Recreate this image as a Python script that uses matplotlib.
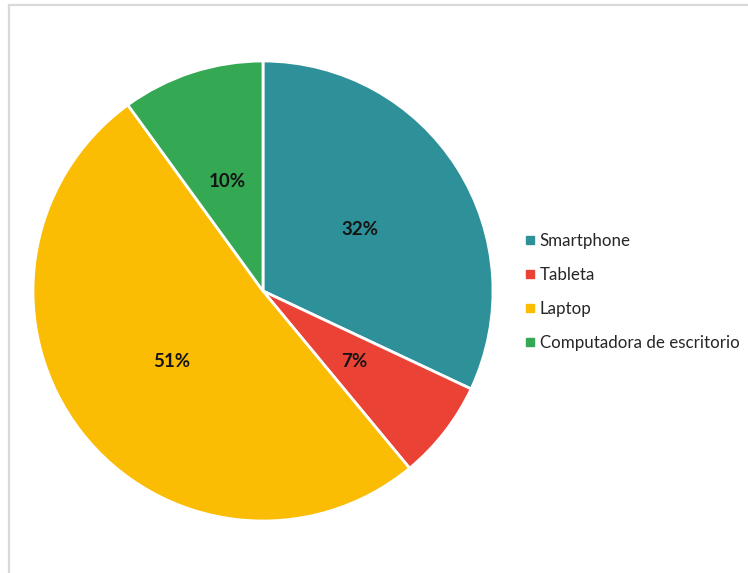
import matplotlib
matplotlib.use("Agg")
import matplotlib.pyplot as plt
from matplotlib.lines import Line2D

categories = ["Smartphone", "Tableta", "Laptop", "Computadora de escritorio"]
shares = [32, 7, 51, 10]
colors = ["#2E9199", "#EA4335", "#FBBC04", "#34A853"]

plt.rcParams["font.family"] = ["Lato", "DejaVu Sans"]

fig = plt.figure(figsize=(7.48, 5.73), dpi=100)
fig.patch.set_facecolor("white")

# light frame on the left and top edges
frame_color = "#D9D9D9"
fig.add_artist(Line2D([8.5 / 748, 8.5 / 748], [0, 1 - 4.5 / 573],
                      color=frame_color, lw=1.6, transform=fig.transFigure))
fig.add_artist(Line2D([8.5 / 748, 1], [1 - 4.5 / 573, 1 - 4.5 / 573],
                      color=frame_color, lw=1.6, transform=fig.transFigure))

cx, cy, r = 263, 291, 230
W, H = 748, 573
ax = fig.add_axes([(cx - r) / W, (H - cy - r) / H, 2 * r / W, 2 * r / H])

wedges, texts, autotexts = ax.pie(
    shares,
    colors=colors,
    startangle=90,
    counterclock=False,
    radius=1,
    autopct=lambda p: f"{p:.0f}%",
    pctdistance=0.5,
    wedgeprops=dict(edgecolor="white", linewidth=2),
    textprops=dict(fontsize=13.5, fontweight="bold", color="#141414"),
)
ax.set_xlim(-1, 1)
ax.set_ylim(-1, 1)
ax.set_aspect("equal")

handles = [Line2D([0], [0], marker="s", linestyle="none", markersize=5.5,
                  markerfacecolor=c, markeredgecolor=c) for c in colors]
leg = fig.legend(handles, categories, loc="center left",
                 bbox_to_anchor=(516 / W, 1 - 292 / H),
                 frameon=False, fontsize=12.2, handlelength=0.6,
                 handletextpad=0.3, labelspacing=1.05, borderpad=0)
for t in leg.get_texts():
    t.set_color("#262626")

fig.savefig("out.png", dpi=100, facecolor="white")
